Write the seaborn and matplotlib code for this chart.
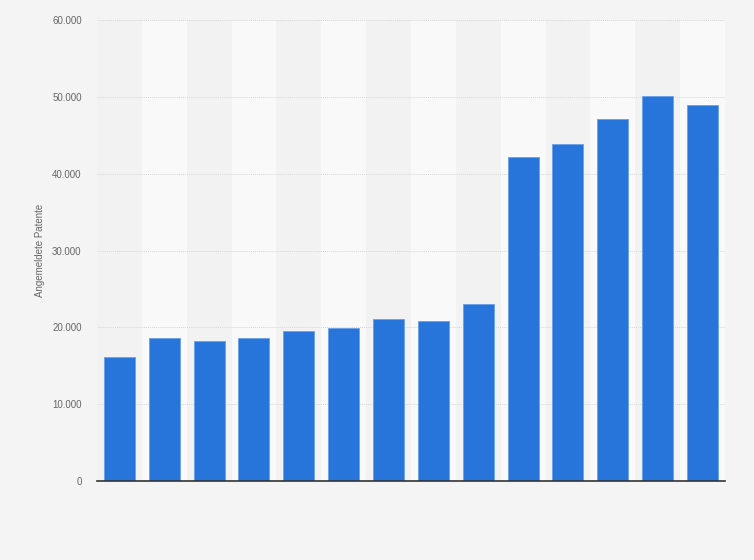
import matplotlib.pyplot as plt
import matplotlib.ticker as mticker
import pandas as pd
import seaborn as sns

# no x labels in the original, so the categories are just positions
categories = [str(i) for i in range(1, 15)]
patents = [16200, 18600, 18200, 18600, 19500, 19900, 21050, 20900,
           23000, 42200, 43900, 47100, 50100, 48900]
y_ticks = [0, 10000, 20000, 30000, 40000, 50000, 60000]

df = pd.DataFrame({"Kategorie": categories, "Patente": patents})

sns.set_theme(style="white")
plt.rcParams["font.family"] = ["Liberation Sans", "DejaVu Sans"]

fig = plt.figure(figsize=(7.54, 5.6), dpi=100, facecolor="#f4f4f4")
ax = fig.add_axes([0.1286, 0.141, 0.8329, 0.823])
ax.set_facecolor("#f4f4f4")

# alternating column bands
for i in range(len(categories)):
    ax.axvspan(i - 0.5, i + 0.5, color="#f2f2f2" if i % 2 == 0 else "#f9f9f9",
               zorder=0, linewidth=0)

sns.barplot(data=df, x="Kategorie", y="Patente", color="#2775db", width=0.69,
            edgecolor="#6a9fe6", linewidth=0.6, saturation=1, ax=ax, zorder=3)

ax.set_xlim(-0.5, len(categories) - 0.5)
ax.set_ylim(0, 60000)
ax.set_yticks(y_ticks)
ax.yaxis.set_major_formatter(
    mticker.FuncFormatter(lambda v, _: f"{int(v):,}".replace(",", ".")))
ax.yaxis.grid(True, linestyle=(0, (1, 1)), color="#d6d6d6", linewidth=0.7, zorder=1)
ax.set_axisbelow(True)

ax.set_xticks([])
ax.set_xlabel("")
ax.set_ylabel("Angemeldete Patente", fontsize=7, color="#666666", labelpad=5)
ax.tick_params(axis="y", length=0, pad=11, labelsize=7, labelcolor="#666666")

for side in ["top", "right", "left"]:
    ax.spines[side].set_visible(False)
ax.spines["bottom"].set_color("#333333")
ax.spines["bottom"].set_linewidth(1.2)
ax.spines["bottom"].set_zorder(5)

fig.savefig("out.png", dpi=100, facecolor=fig.get_facecolor())
